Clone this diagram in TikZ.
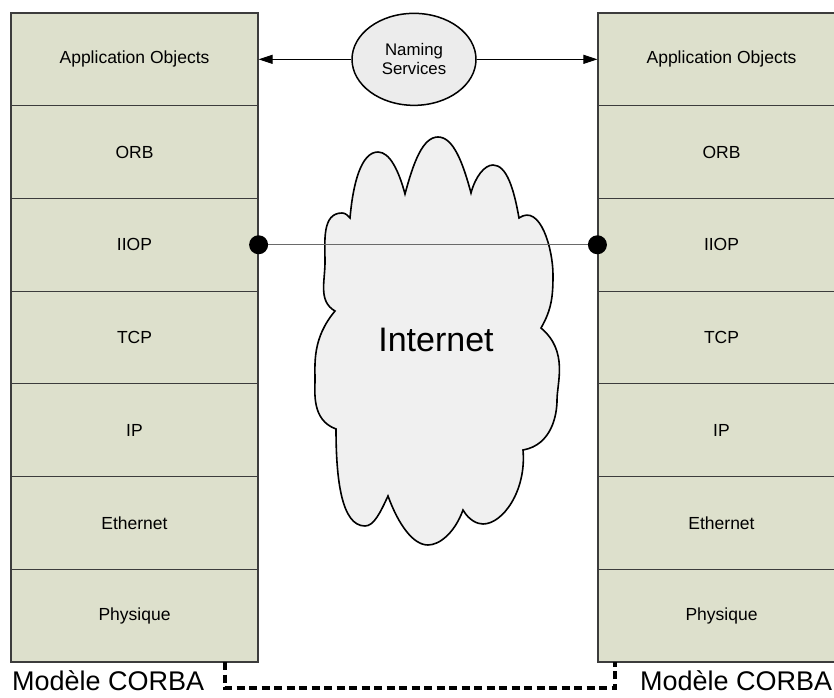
\documentclass[tikz,border=0pt]{standalone}
\usepackage{fontspec}
\setmainfont{Liberation Sans}
\usetikzlibrary{arrows.meta, shapes.geometric}
\definecolor{LayerFill}{HTML}{DDE0CC}
\definecolor{LayerEdge}{HTML}{3C3C3C}
\definecolor{CloudFill}{HTML}{F0F0F0}
\definecolor{EllFill}{HTML}{ECECEC}
\definecolor{LinkGray}{HTML}{6A6A6A}

\begin{document}
\begin{tikzpicture}[
    x=1pt, y=1pt,
    % one protocol layer of a stack
    layer/.style={draw=LayerEdge, fill=LayerFill, line width=1.2pt, inner sep=0pt,
        minimum width=247pt, minimum height=92.71pt,
        font=\fontsize{17.5}{20}\selectfont},
    naming box/.style={ellipse, draw=black, fill=EllFill, line width=1.5pt,
        minimum width=124pt, minimum height=92pt, align=center,
        font=\fontsize{16.8}{19}\selectfont},
    naming arrow/.style={-{Triangle[length=14pt, width=9pt]}, black, line width=1pt},
    cloud line/.style={draw=black, fill=CloudFill, line width=1.6pt},
    % cloud puffs: long tangent at the notch, short one at the crest
    topeak/.style={out looseness=1.25, in looseness=0.6},
    frompeak/.style={out looseness=0.6, in looseness=1.25},
    iiop link/.style={LinkGray, line width=1.3pt},
    model link/.style={black, line width=3.5pt, dash pattern=on 8pt off 4.5pt},
    model text/.style={anchor=base west, inner sep=0pt, font=\fontsize{27}{30}\selectfont}
]
    \useasboundingbox (0,0) rectangle (834,697);
    \begin{scope}
    \clip (0,0) rectangle (834,697);

    % ---------------------------
    % the two CORBA protocol stacks
    % ---------------------------
    \foreach \name/\txt [count=\i from 0] in {app/Application Objects, orb/ORB, iiop/IIOP,
            tcp/TCP, ip/IP, eth/Ethernet, phy/Physique} {
        \node[layer] (L\name) at (134.5, 637.65-\i*92.71) {\txt};
        \node[layer] (R\name) at (721.5, 637.65-\i*92.71) {\txt};
    }

    % Naming service between the application layers
    \node[naming box] (naming) at (414, 637.65) {Naming\\Services};
    \draw[naming arrow] (naming) -- (Lapp);
    \draw[naming arrow] (naming) -- (Rapp);

    % -------------
    % Internet cloud
    % -------------
    \draw[cloud line] (350,479) to[topeak, out=85,in=180] (378,545) to[frompeak, out=0,in=105] (405,503)
        to[topeak, out=75,in=180] (438,560) to[frompeak, out=0,in=105] (471,504)
        to[topeak, out=75,in=180] (493,532) to[frompeak, out=0,in=100] (519,479)
        to[out=35,in=90] (553,422) to[out=-90,in=60] (541,369)
        to[topeak, out=-40,in=90] (557,297) to[frompeak, out=-90,in=10] (523,247)
        to[topeak, out=-85,in=0] (483,173) to[frompeak, out=180,in=-60] (463,187)
        to[topeak, out=-110,in=0] (428,152) to[frompeak, out=180,in=-70] (388,201)
        to[topeak, out=-115,in=0] (365,171) to[frompeak, out=180,in=-90] (336,268)
        to[topeak, out=160,in=-90] (315,317) to[frompeak, out=90,in=-130] (335,386)
        to[out=150,in=-90] (325,435) to[out=90,in=180] (342,484)
        to[out=0,in=135] (350,479) -- cycle;
    \node[font=\fontsize{34}{40}\selectfont] (inet) at (436, 357.5) {Internet};

    % IIOP connection across the cloud
    \draw[iiop link] (Liiop.east) -- (Riiop.west);
    \fill[black] (Liiop.east) circle (9.5);
    \fill[black] (Riiop.west) circle (9.5);

    % -------------
    % model captions
    % -------------
    \coordinate (lfoot) at (225, 35);
    \coordinate (rfoot) at (615, 35);
    \draw[model link] (lfoot) -- ++(0,-26) -| (rfoot);
    \node[model text] (lmodel) at (12, 7) {Modèle CORBA};
    \node[model text] (rmodel) at (640, 7) {Modèle CORBA};
    \end{scope}

\end{tikzpicture}
\end{document}
